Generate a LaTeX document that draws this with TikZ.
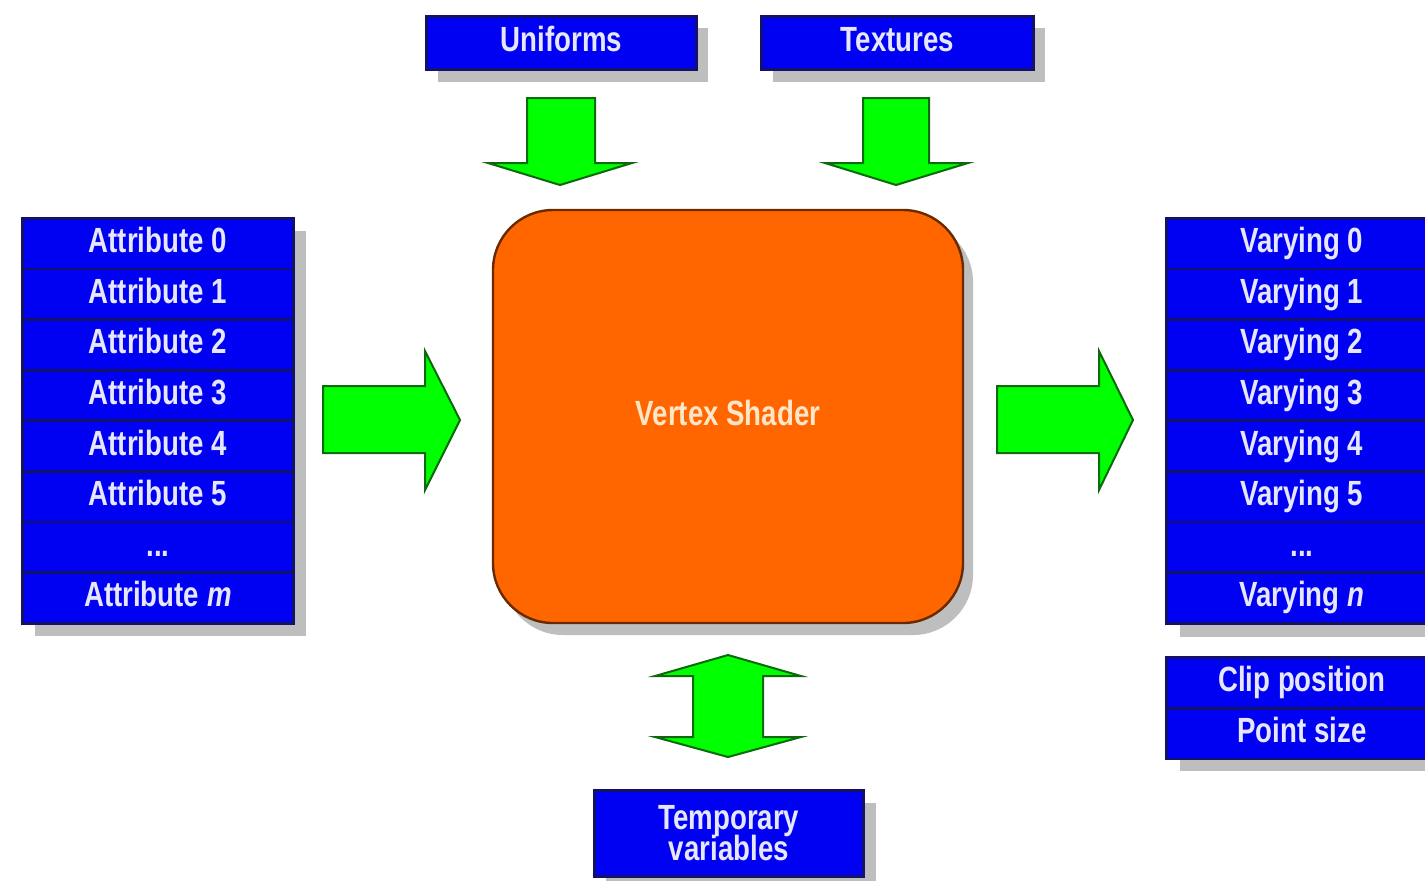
\documentclass[tikz,border=0pt]{standalone}
\usepackage{fontspec}
\newfontfamily\lblfont{Liberation Sans}[FakeStretch=0.79]
\definecolor{boxblue}{HTML}{0000F2}
\definecolor{boxedge}{HTML}{12126A}
\definecolor{lbltext}{HTML}{E6E6FF}
\definecolor{shade}{HTML}{BEBEBE}
\definecolor{shaderorange}{HTML}{FF6600}
\definecolor{shaderedge}{HTML}{6A2A00}
\definecolor{shadertext}{HTML}{FFE6C8}
\definecolor{arrowgreen}{HTML}{00FF00}
\definecolor{arrowedge}{HTML}{0B6A0B}
\tikzset{
  lbl/.style={font=\lblfont\bfseries\fontsize{17.5pt}{14pt}\selectfont},
  cell/.style={lbl, draw=boxedge, fill=boxblue, line width=1.4pt, text=lbltext,
    minimum width=135.5pt, minimum height=25.3pt, inner sep=0pt,
    text height=12.5pt, text depth=3.5pt, anchor=north west},
  topbox/.style={lbl, draw=boxedge, fill=boxblue, line width=1.4pt, text=lbltext,
    minimum width=135pt, minimum height=26.5pt, inner sep=0pt,
    text height=12.5pt, text depth=3.5pt, anchor=north west},
  shadowfill/.style={fill=shade},
  garrow/.style={fill=arrowgreen, draw=arrowedge, line width=1pt, line join=miter},
}
\begin{document}
\begin{tikzpicture}[x=0.5pt,y=-0.5pt]
\clip (0,0) rectangle (1425,880);
\fill[white] (0,0) rectangle (1425,880);

% ---------- shadows ----------
\fill[shadowfill] (35,231) rectangle (306,636);
\fill[shadowfill] (1180,231) rectangle (1450,637);
\fill[shadowfill] (1180,670) rectangle (1450,771);
\fill[shadowfill] (438,28) rectangle (708,82);
\fill[shadowfill] (773,28) rectangle (1045,82);
\fill[shadowfill] (606,803) rectangle (876,890);
\fill[shadowfill, rounded corners=30pt] (503,222) rectangle (973,635);

% ---------- top boxes ----------
\node[topbox] (uni) at (425,15) {Uniforms};
\node[topbox, minimum width=136pt] (tex) at (760,15) {Textures};

% ---------- attributes ----------
\node[cell] (attr0) at (21,217.0) {Attribute 0};
\node[cell] (attr1) at (21,267.6) {Attribute 1};
\node[cell] (attr2) at (21,318.2) {Attribute 2};
\node[cell] (attr3) at (21,368.8) {Attribute 3};
\node[cell] (attr4) at (21,419.4) {Attribute 4};
\node[cell] (attr5) at (21,470.0) {Attribute 5};
\node[cell] (attr6) at (21,520.6) {...};
\node[cell] (attr7) at (21,571.2) {Attribute \textit{m}};

% ---------- varyings ----------
\node[cell] (var0) at (1165,217.0) {Varying 0};
\node[cell] (var1) at (1165,267.6) {Varying 1};
\node[cell] (var2) at (1165,318.2) {Varying 2};
\node[cell] (var3) at (1165,368.8) {Varying 3};
\node[cell] (var4) at (1165,419.4) {Varying 4};
\node[cell] (var5) at (1165,470.0) {Varying 5};
\node[cell] (var6) at (1165,520.6) {...};
\node[cell] (var7) at (1165,571.2) {Varying \textit{n}};

\node[cell] (clip) at (1165,656) {Clip position};
\node[cell] (psize) at (1165,707) {Point size};

% ---------- vertex shader ----------
\node[draw=shaderedge, fill=shaderorange, line width=1.2pt, rounded corners=30pt,
      minimum width=235pt, minimum height=206.5pt, lbl, text=shadertext,
      text height=12.5pt, text depth=3.5pt]
      (vs) at (728,416.5) {Vertex Shader};

% ---------- temporary variables ----------
\node[lbl, draw=boxedge, fill=boxblue, line width=1.4pt, text=lbltext,
      minimum width=134.5pt, minimum height=43pt, inner sep=0pt, align=center,
      anchor=north west] (temp) at (593,789) {Temporary\\[-2pt]variables};

% ---------- block arrows ----------
\draw[garrow] (527,98) -- (595,98) -- (595,163) -- (632,163) -- (560,185)
  -- (488,163) -- (527,163) -- cycle;
\draw[garrow] (863,98) -- (929,98) -- (929,163) -- (968,163) -- (896,185)
  -- (825,163) -- (863,163) -- cycle;
\draw[garrow] (323,386) -- (425,386) -- (425,351) -- (460,420) -- (425,490)
  -- (425,453) -- (323,453) -- cycle;
\draw[garrow] (997,386) -- (1099,386) -- (1099,351) -- (1133,420) -- (1099,490)
  -- (1099,453) -- (997,453) -- cycle;
\draw[garrow] (728,655) -- (801,676) -- (763,676) -- (763,737) -- (801,737)
  -- (728,757) -- (655,737) -- (693,737) -- (693,676) -- (655,676) -- cycle;
\end{tikzpicture}
\end{document}
